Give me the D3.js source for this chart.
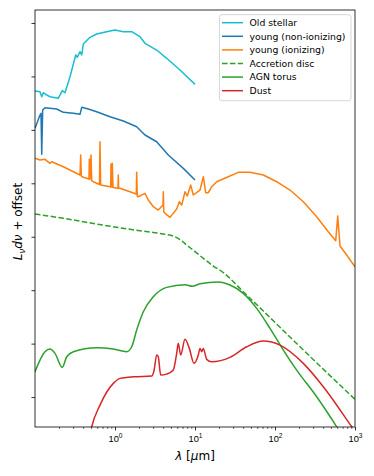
<!DOCTYPE html>
<html>
<head>
<meta charset="utf-8">
<script src="https://cdn.jsdelivr.net/npm/d3@7"></script>
<style>
body { margin: 0; background: #fff; }
svg { font-family: "DejaVu Sans", sans-serif; }
</style>
</head>
<body>
<svg id="chart" width="374" height="476"></svg>
<script>
// each point: [log10(lambda / um), log L_nu dnu + offset]
var oldStellar = [[-1.0,5.727],[-0.9375,5.714],[-0.916,5.620],[-0.896,5.695],[-0.854,5.652],[-0.8125,5.620],
  [-0.709,5.590],[-0.659,5.733],[-0.625,5.695],[-0.5625,5.995],[-0.491,6.401],[-0.471,6.358],[-0.4375,6.463],
  [-0.416,6.401],[-0.396,6.607],[-0.3125,6.732],[-0.229,6.794],[-0.104,6.837],[0,6.869],[0.104,6.837],
  [0.209,6.837],[0.3125,6.743],[0.375,6.620],[0.521,6.494],[0.646,6.339],[0.8125,6.120],[1.0,5.852]];

var youngNonIon = [[-1.0,5.029],[-0.9375,5.278],[-0.925,5.310],[-0.916,4.542],[-0.904,5.372],[-0.875,5.415],
  [-0.729,5.390],[-0.646,5.328],[-0.521,5.310],[-0.4375,5.291],[-0.416,5.422],[-0.334,5.390],[-0.229,5.340],
  [-0.0625,5.246],[0.104,5.166],[0.271,5.059],[0.375,4.904],[0.521,4.778],[0.666,4.529],[0.854,4.280],[1.0,4.061]];

var youngIon = [[-1.0,4.468],[-0.9375,4.436],[-0.875,4.449],[-0.8125,4.374],[-0.791,4.404],[-0.646,4.310],
  [-0.4375,4.155],[-0.429,4.529],[-0.421,4.136],[-0.396,4.112],[-0.325,4.080],[-0.321,4.449],[-0.3125,4.071],
  [-0.300,4.529],[-0.291,4.052],[-0.271,4.030],[-0.194,3.977],[-0.1875,4.778],[-0.179,3.968],[-0.0625,3.936],
  [-0.054,3.930],[-0.050,4.361],[-0.041,3.930],[-0.034,4.374],[-0.025,3.921],[0.0375,3.908],[0.041,4.155],
  [0.046,3.906],[0.0625,3.906],[0.1875,3.842],[0.266,3.799],[0.271,4.205],[0.279,3.753],[0.291,3.749],
  [0.375,3.812],[0.416,3.687],[0.479,3.562],[0.541,3.500],[0.600,3.593],[0.604,3.842],[0.610,3.462],
  [0.625,3.438],[0.6875,3.363],[0.771,3.519],[0.804,3.655],[0.834,3.593],[0.875,3.842],[0.904,3.762],
  [0.946,3.968],[0.979,3.781],[1.0625,3.874],[1.104,4.123],[1.134,3.824],[1.166,3.824],[1.209,3.936],
  [1.271,4.030],[1.416,4.123],[1.541,4.205],[1.6875,4.205],[1.854,4.155],[2.021,4.030],[2.1875,3.874],
  [2.354,3.655],[2.521,3.375],[2.666,3.094],[2.759,2.925],[2.784,3.388],[2.8125,2.826],[2.896,2.658],[3.0,2.439]];

var accretionDisc = [[-1.0,3.425],[-0.646,3.345],[-0.229,3.238],[0.1875,3.139],[0.604,3.051],[0.729,3.013],
  [0.8125,2.948],[0.896,2.845],[1.0,2.723],[1.104,2.596],[1.229,2.452],[1.354,2.330],[1.604,1.971],
  [1.854,1.610],[2.271,1.001],[2.6875,0.402],[3.0,-0.043]];

var agnTorus = [[-1.0,0.474],[-0.9375,0.692],[-0.875,0.848],[-0.8125,0.898],[-0.75,0.818],[-0.659,0.556],
  [-0.604,0.754],[-0.521,0.848],[-0.229,0.923],[-0.021,0.898],[0.146,0.848],[0.209,0.941],[0.271,1.254],
  [0.354,1.597],[0.479,1.877],[0.646,2.053],[0.875,2.102],[0.966,2.072],[1.0625,2.121],[1.291,2.152],
  [1.4375,2.096],[1.604,1.941],[1.771,1.660],[1.9375,1.286],[2.104,0.880],[2.271,0.505],[2.521,0.006],
  [2.771,-0.556],[2.875,-0.805]];

var dust = [[-0.325,-0.805],[-0.291,-0.556],[-0.1875,-0.150],[-0.021,0.256],[0.0625,0.350],[0.229,0.380],
  [0.459,0.393],[0.4875,0.492],[0.521,0.786],[0.541,0.754],[0.571,0.412],[0.646,0.430],[0.729,0.505],
  [0.771,0.818],[0.791,1.005],[0.821,0.786],[0.875,1.080],[0.929,0.911],[0.9875,0.631],[1.041,0.786],
  [1.0625,0.911],[1.084,0.848],[1.104,0.911],[1.146,0.706],[1.209,0.661],[1.4375,0.743],[1.646,0.941],
  [1.854,1.048],[2.0625,0.973],[2.354,0.631],[2.604,0.193],[2.959,-0.556],[3.0,-0.643]];

var seriesNames = ["Old stellar", "young (non-ionizing)", "young (ionizing)", "Accretion disc", "AGN torus", "Dust"];
var seriesData = [oldStellar, youngNonIon, youngIon, accretionDisc, agnTorus, dust];
var seriesColors = ["#17becf", "#1f77b4", "#ff7f0e", "#2ca02c", "#2ca02c", "#d62728"];
var seriesDash = [null, null, null, "5.5,2.4", null, null];
var seriesSmooth = [false, false, false, true, true, true];

var xTicks = [1, 10, 100, 1000];
var yTicks = [0, 1, 2, 3, 4, 5, 6, 7];

var margin = {top: 10, right: 19, bottom: 49, left: 35},
  width = 374 - margin.left - margin.right,
  height = 476 - margin.top - margin.bottom;

var svg = d3.select("#chart");
var g = svg.append("g").attr("transform", "translate(" + margin.left + "," + margin.top + ")");

var x = d3.scaleLog().domain([0.1, 1000]).range([0, width]);
var y = d3.scaleLinear().domain([-0.56, 7.243]).range([height, 0]);

g.append("clipPath").attr("id", "clip")
  .append("rect").attr("width", width).attr("height", height);

var minor = [];
[0.1, 1, 10, 100].forEach(function(dec) {
  for (var k = 2; k <= 9; k++) minor.push(dec * k);
});

// minor x ticks
g.append("g")
  .attr("transform", "translate(0," + height + ")")
  .call(d3.axisBottom(x).tickValues(minor).tickSize(2).tickFormat(""))
  .call(function(a) { a.select(".domain").remove(); a.selectAll("line").attr("stroke-width", 0.6); });

// major x ticks
var xAxis = g.append("g")
  .attr("transform", "translate(0," + height + ")")
  .call(d3.axisBottom(x).tickValues(xTicks).tickSize(3.5).tickFormat(""));
xAxis.select(".domain").remove();
xAxis.selectAll("line").attr("stroke-width", 0.8);

xAxis.selectAll(".tick").append("text")
  .attr("y", 15)
  .attr("fill", "#000")
  .style("font-size", "9.3px")
  .attr("text-anchor", "middle")
  .each(function(d) {
    var t = d3.select(this);
    t.append("tspan").text("10");
    t.append("tspan").attr("dy", -4).style("font-size", "6.6px").text(Math.round(Math.log10(d)));
  });

var yAxis = g.append("g")
  .call(d3.axisLeft(y).tickValues(yTicks).tickSize(3.5).tickFormat(""));
yAxis.select(".domain").remove();
yAxis.selectAll("line").attr("stroke-width", 0.8);

var line = d3.line()
  .x(function(d) { return x(Math.pow(10, d[0])); })
  .y(function(d) { return y(d[1]); });

var plot = g.append("g").attr("clip-path", "url(#clip)");
seriesData.forEach(function(data, i) {
  plot.append("path")
    .datum(data)
    .attr("fill", "none")
    .attr("stroke", seriesColors[i])
    .attr("stroke-width", 1.5)
    .attr("stroke-dasharray", seriesDash[i])
    .attr("stroke-linejoin", "round")
    .attr("d", line.curve(seriesSmooth[i] ? d3.curveMonotoneX : d3.curveLinear));
});

// frame
g.append("rect")
  .attr("width", width).attr("height", height)
  .attr("fill", "none").attr("stroke", "#000").attr("stroke-width", 0.8);

// axis labels
var xl = g.append("text")
  .attr("x", width / 2).attr("y", height + 33)
  .attr("text-anchor", "middle")
  .style("font-size", "12px");
xl.append("tspan").style("font-style", "italic").text("λ");
xl.append("tspan").text(" [");
xl.append("tspan").style("font-style", "italic").text("μ");
xl.append("tspan").text("m]");

var yl = g.append("text")
  .attr("transform", "translate(-13," + (height / 2 + 3) + ") rotate(-90)")
  .attr("text-anchor", "middle")
  .style("font-size", "12px");
yl.append("tspan").style("font-style", "italic").text("L");
yl.append("tspan").style("font-style", "italic").style("font-size", "8.5px").attr("dy", 3).text("ν");
yl.append("tspan").style("font-style", "italic").attr("dy", -3).text("dν");
yl.append("tspan").text(" + offset");

// legend
var legend = svg.append("g").attr("transform", "translate(219.5,14.7)");
legend.append("rect")
  .attr("width", 131.5).attr("height", 86).attr("rx", 2.5)
  .attr("fill", "#fff").attr("fill-opacity", 0.8)
  .attr("stroke", "#cccccc").attr("stroke-width", 0.8);

var item = legend.selectAll(".item").data(seriesNames)
  .enter().append("g")
  .attr("class", "item")
  .attr("transform", function(d, i) { return "translate(0," + (8 + i * 13.6) + ")"; });
item.append("line")
  .attr("x1", 2.5).attr("x2", 23.5)
  .attr("stroke", function(d, i) { return seriesColors[i]; })
  .attr("stroke-width", 1.5)
  .attr("stroke-dasharray", function(d, i) { return seriesDash[i]; });
item.append("text")
  .attr("x", 30).attr("y", 3.3)
  .style("font-size", "9.3px")
  .text(function(d) { return d; });
</script>
</body>
</html>
